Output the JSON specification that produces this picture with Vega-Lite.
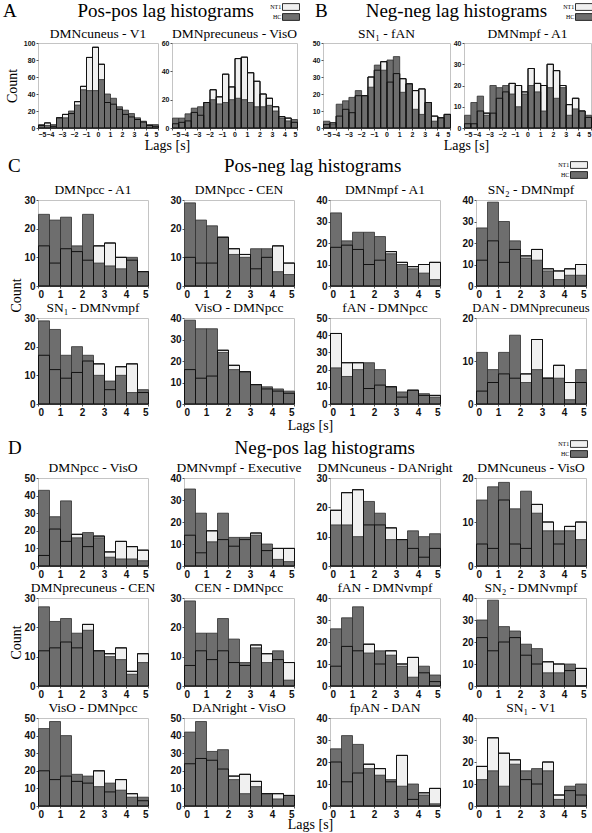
{
"$schema":"https://vega.github.io/schema/vega-lite/v6.json",
"background":"white",
"padding":{"left":3,"top":2,"right":0,"bottom":0},
"data":{"values":[
{"p":"A1","lo":-5,"hi":-4.5,"nt1":3,"hc":4},{"p":"A1","lo":-4.5,"hi":-4,"nt1":6,"hc":3},{"p":"A1","lo":-4,"hi":-3.5,"nt1":2,"hc":4},{"p":"A1","lo":-3.5,"hi":-3,"nt1":12,"hc":12},{"p":"A1","lo":-3,"hi":-2.5,"nt1":16,"hc":12},{"p":"A1","lo":-2.5,"hi":-2,"nt1":17,"hc":20},{"p":"A1","lo":-2,"hi":-1.5,"nt1":31,"hc":27},{"p":"A1","lo":-1.5,"hi":-1,"nt1":49,"hc":45},{"p":"A1","lo":-1,"hi":-0.5,"nt1":83,"hc":44},{"p":"A1","lo":-0.5,"hi":0,"nt1":95,"hc":44},{"p":"A1","lo":0,"hi":0.5,"nt1":75,"hc":57},{"p":"A1","lo":0.5,"hi":1,"nt1":30,"hc":40},{"p":"A1","lo":1,"hi":1.5,"nt1":28,"hc":35},{"p":"A1","lo":1.5,"hi":2,"nt1":22,"hc":25},{"p":"A1","lo":2,"hi":2.5,"nt1":16,"hc":21},{"p":"A1","lo":2.5,"hi":3,"nt1":13,"hc":17},{"p":"A1","lo":3,"hi":3.5,"nt1":10,"hc":12},{"p":"A1","lo":3.5,"hi":4,"nt1":7,"hc":8},{"p":"A1","lo":4,"hi":4.5,"nt1":3,"hc":4},{"p":"A1","lo":4.5,"hi":5,"nt1":2,"hc":4},
{"p":"A2","lo":-5,"hi":-4.5,"nt1":3,"hc":7},{"p":"A2","lo":-4.5,"hi":-4,"nt1":4,"hc":7},{"p":"A2","lo":-4,"hi":-3.5,"nt1":5,"hc":10},{"p":"A2","lo":-3.5,"hi":-3,"nt1":11,"hc":14},{"p":"A2","lo":-3,"hi":-2.5,"nt1":9,"hc":15},{"p":"A2","lo":-2.5,"hi":-2,"nt1":18,"hc":18},{"p":"A2","lo":-2,"hi":-1.5,"nt1":27,"hc":20},{"p":"A2","lo":-1.5,"hi":-1,"nt1":22,"hc":17},{"p":"A2","lo":-1,"hi":-0.5,"nt1":38,"hc":18},{"p":"A2","lo":-0.5,"hi":0,"nt1":29,"hc":20},{"p":"A2","lo":0,"hi":0.5,"nt1":49,"hc":21},{"p":"A2","lo":0.5,"hi":1,"nt1":50,"hc":20},{"p":"A2","lo":1,"hi":1.5,"nt1":39,"hc":18},{"p":"A2","lo":1.5,"hi":2,"nt1":33,"hc":15},{"p":"A2","lo":2,"hi":2.5,"nt1":24,"hc":15},{"p":"A2","lo":2.5,"hi":3,"nt1":21,"hc":16},{"p":"A2","lo":3,"hi":3.5,"nt1":15,"hc":12},{"p":"A2","lo":3.5,"hi":4,"nt1":8,"hc":7},{"p":"A2","lo":4,"hi":4.5,"nt1":7,"hc":5},{"p":"A2","lo":4.5,"hi":5,"nt1":4,"hc":6},
{"p":"B1","lo":-5,"hi":-4.5,"nt1":2,"hc":4},{"p":"B1","lo":-4.5,"hi":-4,"nt1":3,"hc":2},{"p":"B1","lo":-4,"hi":-3.5,"nt1":7,"hc":14},{"p":"B1","lo":-3.5,"hi":-3,"nt1":11,"hc":16},{"p":"B1","lo":-3,"hi":-2.5,"nt1":9,"hc":18},{"p":"B1","lo":-2.5,"hi":-2,"nt1":19,"hc":22},{"p":"B1","lo":-2,"hi":-1.5,"nt1":19,"hc":19},{"p":"B1","lo":-1.5,"hi":-1,"nt1":30,"hc":24},{"p":"B1","lo":-1,"hi":-0.5,"nt1":34,"hc":37},{"p":"B1","lo":-0.5,"hi":0,"nt1":39,"hc":34},{"p":"B1","lo":0,"hi":0.5,"nt1":27,"hc":40},{"p":"B1","lo":0.5,"hi":1,"nt1":32,"hc":42},{"p":"B1","lo":1,"hi":1.5,"nt1":29,"hc":21},{"p":"B1","lo":1.5,"hi":2,"nt1":26,"hc":26},{"p":"B1","lo":2,"hi":2.5,"nt1":22,"hc":11},{"p":"B1","lo":2.5,"hi":3,"nt1":23,"hc":8},{"p":"B1","lo":3,"hi":3.5,"nt1":15,"hc":15},{"p":"B1","lo":3.5,"hi":4,"nt1":7,"hc":4},{"p":"B1","lo":4,"hi":4.5,"nt1":6,"hc":6},{"p":"B1","lo":4.5,"hi":5,"nt1":8,"hc":8},
{"p":"B2","lo":-5,"hi":-4.5,"nt1":2,"hc":6},{"p":"B2","lo":-4.5,"hi":-4,"nt1":2,"hc":12},{"p":"B2","lo":-4,"hi":-3.5,"nt1":8,"hc":15},{"p":"B2","lo":-3.5,"hi":-3,"nt1":7,"hc":6},{"p":"B2","lo":-3,"hi":-2.5,"nt1":7,"hc":20},{"p":"B2","lo":-2.5,"hi":-2,"nt1":14,"hc":19},{"p":"B2","lo":-2,"hi":-1.5,"nt1":17,"hc":20},{"p":"B2","lo":-1.5,"hi":-1,"nt1":21,"hc":16},{"p":"B2","lo":-1,"hi":-0.5,"nt1":20,"hc":10},{"p":"B2","lo":-0.5,"hi":0,"nt1":17,"hc":16},{"p":"B2","lo":0,"hi":0.5,"nt1":28,"hc":20},{"p":"B2","lo":0.5,"hi":1,"nt1":21,"hc":17},{"p":"B2","lo":1,"hi":1.5,"nt1":20,"hc":8},{"p":"B2","lo":1.5,"hi":2,"nt1":30,"hc":19},{"p":"B2","lo":2,"hi":2.5,"nt1":27,"hc":14},{"p":"B2","lo":2.5,"hi":3,"nt1":20,"hc":19},{"p":"B2","lo":3,"hi":3.5,"nt1":11,"hc":6},{"p":"B2","lo":3.5,"hi":4,"nt1":14,"hc":9},{"p":"B2","lo":4,"hi":4.5,"nt1":8,"hc":8},{"p":"B2","lo":4.5,"hi":5,"nt1":5,"hc":6},
{"p":"C1","lo":0,"hi":0.5,"nt1":14,"hc":25},{"p":"C1","lo":0.5,"hi":1,"nt1":8,"hc":23},{"p":"C1","lo":1,"hi":1.5,"nt1":13,"hc":24},{"p":"C1","lo":1.5,"hi":2,"nt1":12,"hc":14},{"p":"C1","lo":2,"hi":2.5,"nt1":9,"hc":25},{"p":"C1","lo":2.5,"hi":3,"nt1":14,"hc":8},{"p":"C1","lo":3,"hi":3.5,"nt1":15,"hc":7},{"p":"C1","lo":3.5,"hi":4,"nt1":10,"hc":6},{"p":"C1","lo":4,"hi":4.5,"nt1":9,"hc":10},{"p":"C1","lo":4.5,"hi":5,"nt1":5,"hc":5},
{"p":"C2","lo":0,"hi":0.5,"nt1":10,"hc":29},{"p":"C2","lo":0.5,"hi":1,"nt1":8,"hc":23},{"p":"C2","lo":1,"hi":1.5,"nt1":8,"hc":21},{"p":"C2","lo":1.5,"hi":2,"nt1":17,"hc":17},{"p":"C2","lo":2,"hi":2.5,"nt1":13,"hc":11},{"p":"C2","lo":2.5,"hi":3,"nt1":11,"hc":10},{"p":"C2","lo":3,"hi":3.5,"nt1":6,"hc":13},{"p":"C2","lo":3.5,"hi":4,"nt1":10,"hc":13},{"p":"C2","lo":4,"hi":4.5,"nt1":14,"hc":5},{"p":"C2","lo":4.5,"hi":5,"nt1":8,"hc":4},
{"p":"C3","lo":0,"hi":0.5,"nt1":18,"hc":34},{"p":"C3","lo":0.5,"hi":1,"nt1":19,"hc":21},{"p":"C3","lo":1,"hi":1.5,"nt1":17,"hc":25},{"p":"C3","lo":1.5,"hi":2,"nt1":10,"hc":25},{"p":"C3","lo":2,"hi":2.5,"nt1":12,"hc":23},{"p":"C3","lo":2.5,"hi":3,"nt1":16,"hc":15},{"p":"C3","lo":3,"hi":3.5,"nt1":11,"hc":10},{"p":"C3","lo":3.5,"hi":4,"nt1":9,"hc":8},{"p":"C3","lo":4,"hi":4.5,"nt1":10,"hc":6},{"p":"C3","lo":4.5,"hi":5,"nt1":11,"hc":3},
{"p":"C4","lo":0,"hi":0.5,"nt1":12,"hc":27},{"p":"C4","lo":0.5,"hi":1,"nt1":21,"hc":39},{"p":"C4","lo":1,"hi":1.5,"nt1":11,"hc":30},{"p":"C4","lo":1.5,"hi":2,"nt1":17,"hc":21},{"p":"C4","lo":2,"hi":2.5,"nt1":14,"hc":13},{"p":"C4","lo":2.5,"hi":3,"nt1":17,"hc":12},{"p":"C4","lo":3,"hi":3.5,"nt1":8,"hc":7},{"p":"C4","lo":3.5,"hi":4,"nt1":7,"hc":3},{"p":"C4","lo":4,"hi":4.5,"nt1":8,"hc":5},{"p":"C4","lo":4.5,"hi":5,"nt1":10,"hc":5},
{"p":"C5","lo":0,"hi":0.5,"nt1":17,"hc":29},{"p":"C5","lo":0.5,"hi":1,"nt1":12,"hc":26},{"p":"C5","lo":1,"hi":1.5,"nt1":9,"hc":17},{"p":"C5","lo":1.5,"hi":2,"nt1":11,"hc":20},{"p":"C5","lo":2,"hi":2.5,"nt1":15,"hc":17},{"p":"C5","lo":2.5,"hi":3,"nt1":14,"hc":10},{"p":"C5","lo":3,"hi":3.5,"nt1":5,"hc":8},{"p":"C5","lo":3.5,"hi":4,"nt1":13,"hc":10},{"p":"C5","lo":4,"hi":4.5,"nt1":14,"hc":4},{"p":"C5","lo":4.5,"hi":5,"nt1":4,"hc":5},
{"p":"C6","lo":0,"hi":0.5,"nt1":16,"hc":39},{"p":"C6","lo":0.5,"hi":1,"nt1":12,"hc":35},{"p":"C6","lo":1,"hi":1.5,"nt1":13,"hc":35},{"p":"C6","lo":1.5,"hi":2,"nt1":25,"hc":24},{"p":"C6","lo":2,"hi":2.5,"nt1":18,"hc":16},{"p":"C6","lo":2.5,"hi":3,"nt1":15,"hc":15},{"p":"C6","lo":3,"hi":3.5,"nt1":9,"hc":9},{"p":"C6","lo":3.5,"hi":4,"nt1":7,"hc":8},{"p":"C6","lo":4,"hi":4.5,"nt1":6,"hc":7},{"p":"C6","lo":4.5,"hi":5,"nt1":5,"hc":6},
{"p":"C7","lo":0,"hi":0.5,"nt1":41,"hc":21},{"p":"C7","lo":0.5,"hi":1,"nt1":24,"hc":16},{"p":"C7","lo":1,"hi":1.5,"nt1":24,"hc":20},{"p":"C7","lo":1.5,"hi":2,"nt1":9,"hc":24},{"p":"C7","lo":2,"hi":2.5,"nt1":11,"hc":20},{"p":"C7","lo":2.5,"hi":3,"nt1":10,"hc":10},{"p":"C7","lo":3,"hi":3.5,"nt1":4,"hc":7},{"p":"C7","lo":3.5,"hi":4,"nt1":8,"hc":8},{"p":"C7","lo":4,"hi":4.5,"nt1":5,"hc":6},{"p":"C7","lo":4.5,"hi":5,"nt1":5,"hc":4},
{"p":"C8","lo":0,"hi":0.5,"nt1":3,"hc":12},{"p":"C8","lo":0.5,"hi":1,"nt1":5,"hc":8},{"p":"C8","lo":1,"hi":1.5,"nt1":7,"hc":12},{"p":"C8","lo":1.5,"hi":2,"nt1":6,"hc":16},{"p":"C8","lo":2,"hi":2.5,"nt1":7,"hc":5},{"p":"C8","lo":2.5,"hi":3,"nt1":15,"hc":8},{"p":"C8","lo":3,"hi":3.5,"nt1":6,"hc":6},{"p":"C8","lo":3.5,"hi":4,"nt1":9,"hc":6},{"p":"C8","lo":4,"hi":4.5,"nt1":5,"hc":1},{"p":"C8","lo":4.5,"hi":5,"nt1":5,"hc":8},
{"p":"D1","lo":0,"hi":0.5,"nt1":6,"hc":43},{"p":"D1","lo":0.5,"hi":1,"nt1":21,"hc":28},{"p":"D1","lo":1,"hi":1.5,"nt1":14,"hc":37},{"p":"D1","lo":1.5,"hi":2,"nt1":18,"hc":16},{"p":"D1","lo":2,"hi":2.5,"nt1":11,"hc":19},{"p":"D1","lo":2.5,"hi":3,"nt1":17,"hc":16},{"p":"D1","lo":3,"hi":3.5,"nt1":8,"hc":5},{"p":"D1","lo":3.5,"hi":4,"nt1":14,"hc":4},{"p":"D1","lo":4,"hi":4.5,"nt1":11,"hc":4},{"p":"D1","lo":4.5,"hi":5,"nt1":9,"hc":3},
{"p":"D2","lo":0,"hi":0.5,"nt1":14,"hc":35},{"p":"D2","lo":0.5,"hi":1,"nt1":6,"hc":24},{"p":"D2","lo":1,"hi":1.5,"nt1":16,"hc":11},{"p":"D2","lo":1.5,"hi":2,"nt1":12,"hc":24},{"p":"D2","lo":2,"hi":2.5,"nt1":9,"hc":13},{"p":"D2","lo":2.5,"hi":3,"nt1":12,"hc":13},{"p":"D2","lo":3,"hi":3.5,"nt1":15,"hc":14},{"p":"D2","lo":3.5,"hi":4,"nt1":7,"hc":10},{"p":"D2","lo":4,"hi":4.5,"nt1":8,"hc":3},{"p":"D2","lo":4.5,"hi":5,"nt1":8,"hc":2},
{"p":"D3","lo":0,"hi":0.5,"nt1":19,"hc":14},{"p":"D3","lo":0.5,"hi":1,"nt1":25,"hc":14},{"p":"D3","lo":1,"hi":1.5,"nt1":26,"hc":10},{"p":"D3","lo":1.5,"hi":2,"nt1":14,"hc":22},{"p":"D3","lo":2,"hi":2.5,"nt1":14,"hc":18},{"p":"D3","lo":2.5,"hi":3,"nt1":13,"hc":9},{"p":"D3","lo":3,"hi":3.5,"nt1":9,"hc":9},{"p":"D3","lo":3.5,"hi":4,"nt1":6,"hc":12},{"p":"D3","lo":4,"hi":4.5,"nt1":3,"hc":10},{"p":"D3","lo":4.5,"hi":5,"nt1":6,"hc":11},
{"p":"D4","lo":0,"hi":0.5,"nt1":5,"hc":15},{"p":"D4","lo":0.5,"hi":1,"nt1":4,"hc":18},{"p":"D4","lo":1,"hi":1.5,"nt1":15,"hc":19},{"p":"D4","lo":1.5,"hi":2,"nt1":5,"hc":13},{"p":"D4","lo":2,"hi":2.5,"nt1":4,"hc":17},{"p":"D4","lo":2.5,"hi":3,"nt1":14,"hc":12},{"p":"D4","lo":3,"hi":3.5,"nt1":10,"hc":8},{"p":"D4","lo":3.5,"hi":4,"nt1":5,"hc":8},{"p":"D4","lo":4,"hi":4.5,"nt1":9,"hc":8},{"p":"D4","lo":4.5,"hi":5,"nt1":10,"hc":6},
{"p":"D5","lo":0,"hi":0.5,"nt1":12,"hc":27},{"p":"D5","lo":0.5,"hi":1,"nt1":13,"hc":22},{"p":"D5","lo":1,"hi":1.5,"nt1":15,"hc":23},{"p":"D5","lo":1.5,"hi":2,"nt1":13,"hc":18},{"p":"D5","lo":2,"hi":2.5,"nt1":21,"hc":19},{"p":"D5","lo":2.5,"hi":3,"nt1":12,"hc":12},{"p":"D5","lo":3,"hi":3.5,"nt1":11,"hc":10},{"p":"D5","lo":3.5,"hi":4,"nt1":13,"hc":9},{"p":"D5","lo":4,"hi":4.5,"nt1":5,"hc":4},{"p":"D5","lo":4.5,"hi":5,"nt1":11,"hc":8},
{"p":"D6","lo":0,"hi":0.5,"nt1":7,"hc":29},{"p":"D6","lo":0.5,"hi":1,"nt1":12,"hc":18},{"p":"D6","lo":1,"hi":1.5,"nt1":9,"hc":18},{"p":"D6","lo":1.5,"hi":2,"nt1":12,"hc":23},{"p":"D6","lo":2,"hi":2.5,"nt1":8,"hc":16},{"p":"D6","lo":2.5,"hi":3,"nt1":7,"hc":8},{"p":"D6","lo":3,"hi":3.5,"nt1":14,"hc":13},{"p":"D6","lo":3.5,"hi":4,"nt1":11,"hc":8},{"p":"D6","lo":4,"hi":4.5,"nt1":9,"hc":12},{"p":"D6","lo":4.5,"hi":5,"nt1":8,"hc":2},
{"p":"D7","lo":0,"hi":0.5,"nt1":9,"hc":26},{"p":"D7","lo":0.5,"hi":1,"nt1":18,"hc":31},{"p":"D7","lo":1,"hi":1.5,"nt1":16,"hc":36},{"p":"D7","lo":1.5,"hi":2,"nt1":19,"hc":15},{"p":"D7","lo":2,"hi":2.5,"nt1":10,"hc":16},{"p":"D7","lo":2.5,"hi":3,"nt1":16,"hc":14},{"p":"D7","lo":3,"hi":3.5,"nt1":10,"hc":9},{"p":"D7","lo":3.5,"hi":4,"nt1":13,"hc":4},{"p":"D7","lo":4,"hi":4.5,"nt1":6,"hc":9},{"p":"D7","lo":4.5,"hi":5,"nt1":2,"hc":5},
{"p":"D8","lo":0,"hi":0.5,"nt1":22,"hc":30},{"p":"D8","lo":0.5,"hi":1,"nt1":16,"hc":39},{"p":"D8","lo":1,"hi":1.5,"nt1":20,"hc":27},{"p":"D8","lo":1.5,"hi":2,"nt1":22,"hc":25},{"p":"D8","lo":2,"hi":2.5,"nt1":14,"hc":19},{"p":"D8","lo":2.5,"hi":3,"nt1":10,"hc":17},{"p":"D8","lo":3,"hi":3.5,"nt1":11,"hc":6},{"p":"D8","lo":3.5,"hi":4,"nt1":10,"hc":6},{"p":"D8","lo":4,"hi":4.5,"nt1":7,"hc":10},{"p":"D8","lo":4.5,"hi":5,"nt1":8,"hc":0},
{"p":"D9","lo":0,"hi":0.5,"nt1":20,"hc":44},{"p":"D9","lo":0.5,"hi":1,"nt1":15,"hc":48},{"p":"D9","lo":1,"hi":1.5,"nt1":17,"hc":40},{"p":"D9","lo":1.5,"hi":2,"nt1":14,"hc":18},{"p":"D9","lo":2,"hi":2.5,"nt1":13,"hc":17},{"p":"D9","lo":2.5,"hi":3,"nt1":20,"hc":11},{"p":"D9","lo":3,"hi":3.5,"nt1":8,"hc":13},{"p":"D9","lo":3.5,"hi":4,"nt1":15,"hc":9},{"p":"D9","lo":4,"hi":4.5,"nt1":7,"hc":5},{"p":"D9","lo":4.5,"hi":5,"nt1":3,"hc":5},
{"p":"D10","lo":0,"hi":0.5,"nt1":24,"hc":42},{"p":"D10","lo":0.5,"hi":1,"nt1":27,"hc":48},{"p":"D10","lo":1,"hi":1.5,"nt1":26,"hc":31},{"p":"D10","lo":1.5,"hi":2,"nt1":21,"hc":32},{"p":"D10","lo":2,"hi":2.5,"nt1":17,"hc":15},{"p":"D10","lo":2.5,"hi":3,"nt1":18,"hc":7},{"p":"D10","lo":3,"hi":3.5,"nt1":14,"hc":11},{"p":"D10","lo":3.5,"hi":4,"nt1":7,"hc":7},{"p":"D10","lo":4,"hi":4.5,"nt1":7,"hc":4},{"p":"D10","lo":4.5,"hi":5,"nt1":6,"hc":6},
{"p":"D11","lo":0,"hi":0.5,"nt1":20,"hc":26},{"p":"D11","lo":0.5,"hi":1,"nt1":11,"hc":32},{"p":"D11","lo":1,"hi":1.5,"nt1":15,"hc":28},{"p":"D11","lo":1.5,"hi":2,"nt1":19,"hc":17},{"p":"D11","lo":2,"hi":2.5,"nt1":17,"hc":14},{"p":"D11","lo":2.5,"hi":3,"nt1":11,"hc":12},{"p":"D11","lo":3,"hi":3.5,"nt1":23,"hc":9},{"p":"D11","lo":3.5,"hi":4,"nt1":3,"hc":10},{"p":"D11","lo":4,"hi":4.5,"nt1":6,"hc":5},{"p":"D11","lo":4.5,"hi":5,"nt1":8,"hc":1},
{"p":"D12","lo":0,"hi":0.5,"nt1":18,"hc":12},{"p":"D12","lo":0.5,"hi":1,"nt1":31,"hc":16},{"p":"D12","lo":1,"hi":1.5,"nt1":24,"hc":9},{"p":"D12","lo":1.5,"hi":2,"nt1":21,"hc":19},{"p":"D12","lo":2,"hi":2.5,"nt1":12,"hc":16},{"p":"D12","lo":2.5,"hi":3,"nt1":10,"hc":17},{"p":"D12","lo":3,"hi":3.5,"nt1":20,"hc":16},{"p":"D12","lo":3.5,"hi":4,"nt1":5,"hc":3},{"p":"D12","lo":4,"hi":4.5,"nt1":7,"hc":9},{"p":"D12","lo":4.5,"hi":5,"nt1":5,"hc":10}
]},
"config":{
"view":{"stroke":"#c4c4c4","strokeWidth":1},
"bar":{"binSpacing":0},
"axis":{"grid":false,"domain":false,"labelOverlap":false,"labelFont":"Liberation Sans","labelFontWeight":"bold","labelFontSize":10,"labelColor":"#111","tickColor":"#555","tickSize":2,"labelPadding":1,"titleFont":"Liberation Serif","titleFontSize":14,"titleFontWeight":"normal","titleColor":"#000"},
"title":{"font":"Liberation Serif","fontSize":13.5,"fontWeight":"normal","color":"#000","offset":-1},
"legend":{"orient":"none","symbolType":"M-2,-0.8H2V0.8H-2Z","symbolSize":72,"symbolStrokeColor":"#000","symbolStrokeWidth":0.8,"labelFont":"Liberation Serif","labelFontSize":6,"labelColor":"#000","labelAlign":"right","labelOffset":-14.75,"rowPadding":0,"padding":0,"symbolOpacity":1}
},
"concat":[
{"hconcat":[
 {"hconcat":[{"hconcat":[
  {"title":"DMNcuneus - V1","width":120,"height":85,"transform":[{"filter":"datum.p=='A1'"}],"encoding":{"x":{"field":"lo","type":"quantitative","bin":"binned","scale":{"domain":[-5,5],"nice":false},"axis":{"values":[-5,-4,-3,-2,-1,0,1,2,3,4,5],"labelFontSize":7,"labelPadding":0,"title":"Lags [s]","titleX":129,"titleY":10,"titleBaseline":"top"}},"x2":{"field":"hi"}},"layer":[{"mark":{"type":"bar","stroke":"#111","strokeWidth":1},"encoding":{"y":{"field":"nt1","type":"quantitative","scale":{"domain":[0,100],"nice":false},"axis":{"values":[0,20,40,60,80,100],"labelFontSize":7,"title":"Count","titlePadding":4}},"fill":{"datum":"NT1","scale":{"domain":["NT1","HC"],"range":["#f0f0f0","#6e6e6e"]},"legend":{"title":null,"legendX":248,"legendY":-41}}}},{"mark":{"type":"bar","stroke":"#303030","strokeWidth":0.8},"encoding":{"y":{"field":"hc","type":"quantitative","axis":{"values":[0,20,40,60,80,100],"labelFontSize":7,"title":"Count","titlePadding":4}},"fill":{"datum":"HC","legend":null}}},{"mark":{"type":"bar","fill":"transparent","stroke":"#111","strokeWidth":1},"encoding":{"y":{"field":"nt1","type":"quantitative","axis":{"values":[0,20,40,60,80,100],"labelFontSize":7,"title":"Count","titlePadding":4}}}}]},
  {"title":"DMNprecuneus - VisO","width":125,"height":85,"transform":[{"filter":"datum.p=='A2'"}],"encoding":{"x":{"field":"lo","type":"quantitative","bin":"binned","scale":{"domain":[-5,5],"nice":false},"axis":{"values":[-5,-4,-3,-2,-1,0,1,2,3,4,5],"labelFontSize":7,"labelPadding":0,"title":null}},"x2":{"field":"hi"}},"layer":[{"mark":{"type":"bar","stroke":"#111","strokeWidth":1},"encoding":{"y":{"field":"nt1","type":"quantitative","scale":{"domain":[0,60],"nice":false},"axis":{"values":[0,20,40,60],"labelFontSize":7,"title":null}},"fill":{"datum":"NT1","scale":{"domain":["NT1","HC"],"range":["#f0f0f0","#6e6e6e"]},"legend":null}}},{"mark":{"type":"bar","stroke":"#303030","strokeWidth":0.8},"encoding":{"y":{"field":"hc","type":"quantitative","axis":{"values":[0,20,40,60],"labelFontSize":7,"title":null}},"fill":{"datum":"HC","legend":null}}},{"mark":{"type":"bar","fill":"transparent","stroke":"#111","strokeWidth":1},"encoding":{"y":{"field":"nt1","type":"quantitative","axis":{"values":[0,20,40,60],"labelFontSize":7,"title":null}}}}]}
 ],"spacing":14,"bounds":"flush","title":{"text":"A\u2003\u2003\u2003\u2009Pos-pos lag histograms","anchor":"start","frame":"group","dx":-35,"fontSize":19,"offset":5}}]},
 {"hconcat":[{"hconcat":[
  {"title":"SN\u2081 - fAN","width":127,"height":85,"transform":[{"filter":"datum.p=='B1'"}],"encoding":{"x":{"field":"lo","type":"quantitative","bin":"binned","scale":{"domain":[-5,5],"nice":false},"axis":{"values":[-5,-4,-3,-2,-1,0,1,2,3,4,5],"labelFontSize":7,"labelPadding":0,"title":"Lags [s]","titleX":143,"titleY":10,"titleBaseline":"top"}},"x2":{"field":"hi"}},"layer":[{"mark":{"type":"bar","stroke":"#111","strokeWidth":1},"encoding":{"y":{"field":"nt1","type":"quantitative","scale":{"domain":[0,50],"nice":false},"axis":{"values":[0,10,20,30,40,50],"labelFontSize":7,"title":null}},"fill":{"datum":"NT1","scale":{"domain":["NT1","HC"],"range":["#f0f0f0","#6e6e6e"]},"legend":{"title":null,"legendX":256,"legendY":-41}}}},{"mark":{"type":"bar","stroke":"#303030","strokeWidth":0.8},"encoding":{"y":{"field":"hc","type":"quantitative","axis":{"values":[0,10,20,30,40,50],"labelFontSize":7,"title":null}},"fill":{"datum":"HC","legend":null}}},{"mark":{"type":"bar","fill":"transparent","stroke":"#111","strokeWidth":1},"encoding":{"y":{"field":"nt1","type":"quantitative","axis":{"values":[0,10,20,30,40,50],"labelFontSize":7,"title":null}}}}]},
  {"title":"DMNmpf - A1","width":127,"height":85,"transform":[{"filter":"datum.p=='B2'"}],"encoding":{"x":{"field":"lo","type":"quantitative","bin":"binned","scale":{"domain":[-5,5],"nice":false},"axis":{"values":[-5,-4,-3,-2,-1,0,1,2,3,4,5],"labelFontSize":7,"labelPadding":0,"title":null}},"x2":{"field":"hi"}},"layer":[{"mark":{"type":"bar","stroke":"#111","strokeWidth":1},"encoding":{"y":{"field":"nt1","type":"quantitative","scale":{"domain":[0,40],"nice":false},"axis":{"values":[0,10,20,30,40],"labelFontSize":7,"title":null}},"fill":{"datum":"NT1","scale":{"domain":["NT1","HC"],"range":["#f0f0f0","#6e6e6e"]},"legend":null}}},{"mark":{"type":"bar","stroke":"#303030","strokeWidth":0.8},"encoding":{"y":{"field":"hc","type":"quantitative","axis":{"values":[0,10,20,30,40],"labelFontSize":7,"title":null}},"fill":{"datum":"HC","legend":null}}},{"mark":{"type":"bar","fill":"transparent","stroke":"#111","strokeWidth":1},"encoding":{"y":{"field":"nt1","type":"quantitative","axis":{"values":[0,10,20,30,40],"labelFontSize":7,"title":null}}}}]}
 ],"spacing":14,"bounds":"flush","title":{"text":"B\u2003\u2003Neg-neg lag histograms","anchor":"start","frame":"group","dx":-8,"fontSize":19,"offset":5}}]}
],"spacing":9,"resolve":{"scale":{"fill":"independent"},"legend":{"fill":"independent"}}},
{"concat":[
 {"vconcat":[{"concat":[
   {"title":"DMNpcc - A1","width":110,"height":86,"transform":[{"filter":"datum.p=='C1'"}],"encoding":{"x":{"field":"lo","type":"quantitative","bin":"binned","scale":{"domain":[0,5],"nice":false},"axis":{"values":[0,1,2,3,4,5],"title":null}},"x2":{"field":"hi"}},"layer":[{"mark":{"type":"bar","stroke":"#111","strokeWidth":1},"encoding":{"y":{"field":"nt1","type":"quantitative","scale":{"domain":[0,30],"nice":false},"axis":{"values":[0,10,20,30],"title":"Count","titleY":95,"titlePadding":0}},"fill":{"datum":"NT1","scale":{"domain":["NT1","HC"],"range":["#f0f0f0","#6e6e6e"]},"legend":{"title":null,"legendX":536,"legendY":-40}}}},{"mark":{"type":"bar","stroke":"#303030","strokeWidth":0.8},"encoding":{"y":{"field":"hc","type":"quantitative","axis":{"values":[0,10,20,30],"title":"Count","titleY":95,"titlePadding":0}},"fill":{"datum":"HC","legend":null}}},{"mark":{"type":"bar","fill":"transparent","stroke":"#111","strokeWidth":1},"encoding":{"y":{"field":"nt1","type":"quantitative","axis":{"values":[0,10,20,30],"title":"Count","titleY":95,"titlePadding":0}}}}]},
   {"title":"DMNpcc - CEN","width":110,"height":86,"transform":[{"filter":"datum.p=='C2'"}],"encoding":{"x":{"field":"lo","type":"quantitative","bin":"binned","scale":{"domain":[0,5],"nice":false},"axis":{"values":[0,1,2,3,4,5],"title":null}},"x2":{"field":"hi"}},"layer":[{"mark":{"type":"bar","stroke":"#111","strokeWidth":1},"encoding":{"y":{"field":"nt1","type":"quantitative","scale":{"domain":[0,30],"nice":false},"axis":{"values":[0,10,20,30],"title":null}},"fill":{"datum":"NT1","scale":{"domain":["NT1","HC"],"range":["#f0f0f0","#6e6e6e"]},"legend":null}}},{"mark":{"type":"bar","stroke":"#303030","strokeWidth":0.8},"encoding":{"y":{"field":"hc","type":"quantitative","axis":{"values":[0,10,20,30],"title":null}},"fill":{"datum":"HC","legend":null}}},{"mark":{"type":"bar","fill":"transparent","stroke":"#111","strokeWidth":1},"encoding":{"y":{"field":"nt1","type":"quantitative","axis":{"values":[0,10,20,30],"title":null}}}}]},
   {"title":"DMNmpf - A1","width":110,"height":86,"transform":[{"filter":"datum.p=='C3'"}],"encoding":{"x":{"field":"lo","type":"quantitative","bin":"binned","scale":{"domain":[0,5],"nice":false},"axis":{"values":[0,1,2,3,4,5],"title":null}},"x2":{"field":"hi"}},"layer":[{"mark":{"type":"bar","stroke":"#111","strokeWidth":1},"encoding":{"y":{"field":"nt1","type":"quantitative","scale":{"domain":[0,40],"nice":false},"axis":{"values":[0,10,20,30,40],"title":null}},"fill":{"datum":"NT1","scale":{"domain":["NT1","HC"],"range":["#f0f0f0","#6e6e6e"]},"legend":null}}},{"mark":{"type":"bar","stroke":"#303030","strokeWidth":0.8},"encoding":{"y":{"field":"hc","type":"quantitative","axis":{"values":[0,10,20,30,40],"title":null}},"fill":{"datum":"HC","legend":null}}},{"mark":{"type":"bar","fill":"transparent","stroke":"#111","strokeWidth":1},"encoding":{"y":{"field":"nt1","type":"quantitative","axis":{"values":[0,10,20,30,40],"title":null}}}}]},
   {"title":"SN\u2082 - DMNmpf","width":110,"height":86,"transform":[{"filter":"datum.p=='C4'"}],"encoding":{"x":{"field":"lo","type":"quantitative","bin":"binned","scale":{"domain":[0,5],"nice":false},"axis":{"values":[0,1,2,3,4,5],"title":null}},"x2":{"field":"hi"}},"layer":[{"mark":{"type":"bar","stroke":"#111","strokeWidth":1},"encoding":{"y":{"field":"nt1","type":"quantitative","scale":{"domain":[0,40],"nice":false},"axis":{"values":[0,10,20,30,40],"title":null}},"fill":{"datum":"NT1","scale":{"domain":["NT1","HC"],"range":["#f0f0f0","#6e6e6e"]},"legend":null}}},{"mark":{"type":"bar","stroke":"#303030","strokeWidth":0.8},"encoding":{"y":{"field":"hc","type":"quantitative","axis":{"values":[0,10,20,30,40],"title":null}},"fill":{"datum":"HC","legend":null}}},{"mark":{"type":"bar","fill":"transparent","stroke":"#111","strokeWidth":1},"encoding":{"y":{"field":"nt1","type":"quantitative","axis":{"values":[0,10,20,30,40],"title":null}}}}]},
   {"title":"SN\u2081 - DMNvmpf","width":110,"height":86,"transform":[{"filter":"datum.p=='C5'"}],"encoding":{"x":{"field":"lo","type":"quantitative","bin":"binned","scale":{"domain":[0,5],"nice":false},"axis":{"values":[0,1,2,3,4,5],"title":null}},"x2":{"field":"hi"}},"layer":[{"mark":{"type":"bar","stroke":"#111","strokeWidth":1},"encoding":{"y":{"field":"nt1","type":"quantitative","scale":{"domain":[0,30],"nice":false},"axis":{"values":[0,10,20,30],"title":null}},"fill":{"datum":"NT1","scale":{"domain":["NT1","HC"],"range":["#f0f0f0","#6e6e6e"]},"legend":null}}},{"mark":{"type":"bar","stroke":"#303030","strokeWidth":0.8},"encoding":{"y":{"field":"hc","type":"quantitative","axis":{"values":[0,10,20,30],"title":null}},"fill":{"datum":"HC","legend":null}}},{"mark":{"type":"bar","fill":"transparent","stroke":"#111","strokeWidth":1},"encoding":{"y":{"field":"nt1","type":"quantitative","axis":{"values":[0,10,20,30],"title":null}}}}]},
   {"title":"VisO - DMNpcc","width":110,"height":86,"transform":[{"filter":"datum.p=='C6'"}],"encoding":{"x":{"field":"lo","type":"quantitative","bin":"binned","scale":{"domain":[0,5],"nice":false},"axis":{"values":[0,1,2,3,4,5],"title":"Lags [s]","titleX":126,"titleY":14,"titleBaseline":"top"}},"x2":{"field":"hi"}},"layer":[{"mark":{"type":"bar","stroke":"#111","strokeWidth":1},"encoding":{"y":{"field":"nt1","type":"quantitative","scale":{"domain":[0,40],"nice":false},"axis":{"values":[0,10,20,30,40],"title":null}},"fill":{"datum":"NT1","scale":{"domain":["NT1","HC"],"range":["#f0f0f0","#6e6e6e"]},"legend":null}}},{"mark":{"type":"bar","stroke":"#303030","strokeWidth":0.8},"encoding":{"y":{"field":"hc","type":"quantitative","axis":{"values":[0,10,20,30,40],"title":null}},"fill":{"datum":"HC","legend":null}}},{"mark":{"type":"bar","fill":"transparent","stroke":"#111","strokeWidth":1},"encoding":{"y":{"field":"nt1","type":"quantitative","axis":{"values":[0,10,20,30,40],"title":null}}}}]},
   {"title":"fAN - DMNpcc","width":110,"height":86,"transform":[{"filter":"datum.p=='C7'"}],"encoding":{"x":{"field":"lo","type":"quantitative","bin":"binned","scale":{"domain":[0,5],"nice":false},"axis":{"values":[0,1,2,3,4,5],"title":null}},"x2":{"field":"hi"}},"layer":[{"mark":{"type":"bar","stroke":"#111","strokeWidth":1},"encoding":{"y":{"field":"nt1","type":"quantitative","scale":{"domain":[0,50],"nice":false},"axis":{"values":[0,10,20,30,40,50],"title":null}},"fill":{"datum":"NT1","scale":{"domain":["NT1","HC"],"range":["#f0f0f0","#6e6e6e"]},"legend":null}}},{"mark":{"type":"bar","stroke":"#303030","strokeWidth":0.8},"encoding":{"y":{"field":"hc","type":"quantitative","axis":{"values":[0,10,20,30,40,50],"title":null}},"fill":{"datum":"HC","legend":null}}},{"mark":{"type":"bar","fill":"transparent","stroke":"#111","strokeWidth":1},"encoding":{"y":{"field":"nt1","type":"quantitative","axis":{"values":[0,10,20,30,40,50],"title":null}}}}]},
   {"title":{"text":"DAN - DMNprecuneus","fontSize":12.5},"width":110,"height":86,"transform":[{"filter":"datum.p=='C8'"}],"encoding":{"x":{"field":"lo","type":"quantitative","bin":"binned","scale":{"domain":[0,5],"nice":false},"axis":{"values":[0,1,2,3,4,5],"title":null}},"x2":{"field":"hi"}},"layer":[{"mark":{"type":"bar","stroke":"#111","strokeWidth":1},"encoding":{"y":{"field":"nt1","type":"quantitative","scale":{"domain":[0,20],"nice":false},"axis":{"values":[0,10,20],"title":null}},"fill":{"datum":"NT1","scale":{"domain":["NT1","HC"],"range":["#f0f0f0","#6e6e6e"]},"legend":null}}},{"mark":{"type":"bar","stroke":"#303030","strokeWidth":0.8},"encoding":{"y":{"field":"hc","type":"quantitative","axis":{"values":[0,10,20],"title":null}},"fill":{"datum":"HC","legend":null}}},{"mark":{"type":"bar","fill":"transparent","stroke":"#111","strokeWidth":1},"encoding":{"y":{"field":"nt1","type":"quantitative","axis":{"values":[0,10,20],"title":null}}}}]}
 ],"columns":4,"spacing":{"row":32,"column":36},"bounds":"flush","title":{"text":"C\u2003\u2003\u2003\u2003\u2003\u2003\u2003\u2003\u2003\u2003\u2002\u2009Pos-neg lag histograms","anchor":"start","frame":"group","dx":-30,"fontSize":19,"offset":6}}]},
 {"vconcat":[{"concat":[
   {"title":"DMNpcc - VisO","width":110,"height":88,"transform":[{"filter":"datum.p=='D1'"}],"encoding":{"x":{"field":"lo","type":"quantitative","bin":"binned","scale":{"domain":[0,5],"nice":false},"axis":{"values":[0,1,2,3,4,5],"title":null}},"x2":{"field":"hi"}},"layer":[{"mark":{"type":"bar","stroke":"#111","strokeWidth":1},"encoding":{"y":{"field":"nt1","type":"quantitative","scale":{"domain":[0,50],"nice":false},"axis":{"values":[0,10,20,30,40,50],"title":null}},"fill":{"datum":"NT1","scale":{"domain":["NT1","HC"],"range":["#f0f0f0","#6e6e6e"]},"legend":{"title":null,"legendX":536,"legendY":-39}}}},{"mark":{"type":"bar","stroke":"#303030","strokeWidth":0.8},"encoding":{"y":{"field":"hc","type":"quantitative","axis":{"values":[0,10,20,30,40,50],"title":null}},"fill":{"datum":"HC","legend":null}}},{"mark":{"type":"bar","fill":"transparent","stroke":"#111","strokeWidth":1},"encoding":{"y":{"field":"nt1","type":"quantitative","axis":{"values":[0,10,20,30,40,50],"title":null}}}}]},
   {"title":"DMNvmpf - Executive","width":110,"height":88,"transform":[{"filter":"datum.p=='D2'"}],"encoding":{"x":{"field":"lo","type":"quantitative","bin":"binned","scale":{"domain":[0,5],"nice":false},"axis":{"values":[0,1,2,3,4,5],"title":null}},"x2":{"field":"hi"}},"layer":[{"mark":{"type":"bar","stroke":"#111","strokeWidth":1},"encoding":{"y":{"field":"nt1","type":"quantitative","scale":{"domain":[0,40],"nice":false},"axis":{"values":[0,10,20,30,40],"title":null}},"fill":{"datum":"NT1","scale":{"domain":["NT1","HC"],"range":["#f0f0f0","#6e6e6e"]},"legend":null}}},{"mark":{"type":"bar","stroke":"#303030","strokeWidth":0.8},"encoding":{"y":{"field":"hc","type":"quantitative","axis":{"values":[0,10,20,30,40],"title":null}},"fill":{"datum":"HC","legend":null}}},{"mark":{"type":"bar","fill":"transparent","stroke":"#111","strokeWidth":1},"encoding":{"y":{"field":"nt1","type":"quantitative","axis":{"values":[0,10,20,30,40],"title":null}}}}]},
   {"title":"DMNcuneus - DANright","width":110,"height":88,"transform":[{"filter":"datum.p=='D3'"}],"encoding":{"x":{"field":"lo","type":"quantitative","bin":"binned","scale":{"domain":[0,5],"nice":false},"axis":{"values":[0,1,2,3,4,5],"title":null}},"x2":{"field":"hi"}},"layer":[{"mark":{"type":"bar","stroke":"#111","strokeWidth":1},"encoding":{"y":{"field":"nt1","type":"quantitative","scale":{"domain":[0,30],"nice":false},"axis":{"values":[0,10,20,30],"title":null}},"fill":{"datum":"NT1","scale":{"domain":["NT1","HC"],"range":["#f0f0f0","#6e6e6e"]},"legend":null}}},{"mark":{"type":"bar","stroke":"#303030","strokeWidth":0.8},"encoding":{"y":{"field":"hc","type":"quantitative","axis":{"values":[0,10,20,30],"title":null}},"fill":{"datum":"HC","legend":null}}},{"mark":{"type":"bar","fill":"transparent","stroke":"#111","strokeWidth":1},"encoding":{"y":{"field":"nt1","type":"quantitative","axis":{"values":[0,10,20,30],"title":null}}}}]},
   {"title":"DMNcuneus - VisO","width":110,"height":88,"transform":[{"filter":"datum.p=='D4'"}],"encoding":{"x":{"field":"lo","type":"quantitative","bin":"binned","scale":{"domain":[0,5],"nice":false},"axis":{"values":[0,1,2,3,4,5],"title":null}},"x2":{"field":"hi"}},"layer":[{"mark":{"type":"bar","stroke":"#111","strokeWidth":1},"encoding":{"y":{"field":"nt1","type":"quantitative","scale":{"domain":[0,20],"nice":false},"axis":{"values":[0,10,20],"title":null}},"fill":{"datum":"NT1","scale":{"domain":["NT1","HC"],"range":["#f0f0f0","#6e6e6e"]},"legend":null}}},{"mark":{"type":"bar","stroke":"#303030","strokeWidth":0.8},"encoding":{"y":{"field":"hc","type":"quantitative","axis":{"values":[0,10,20],"title":null}},"fill":{"datum":"HC","legend":null}}},{"mark":{"type":"bar","fill":"transparent","stroke":"#111","strokeWidth":1},"encoding":{"y":{"field":"nt1","type":"quantitative","axis":{"values":[0,10,20],"title":null}}}}]},
   {"title":"DMNprecuneus - CEN","width":110,"height":88,"transform":[{"filter":"datum.p=='D5'"}],"encoding":{"x":{"field":"lo","type":"quantitative","bin":"binned","scale":{"domain":[0,5],"nice":false},"axis":{"values":[0,1,2,3,4,5],"title":null}},"x2":{"field":"hi"}},"layer":[{"mark":{"type":"bar","stroke":"#111","strokeWidth":1},"encoding":{"y":{"field":"nt1","type":"quantitative","scale":{"domain":[0,30],"nice":false},"axis":{"values":[0,10,20,30],"title":"Count","titlePadding":0}},"fill":{"datum":"NT1","scale":{"domain":["NT1","HC"],"range":["#f0f0f0","#6e6e6e"]},"legend":null}}},{"mark":{"type":"bar","stroke":"#303030","strokeWidth":0.8},"encoding":{"y":{"field":"hc","type":"quantitative","axis":{"values":[0,10,20,30],"title":"Count","titlePadding":0}},"fill":{"datum":"HC","legend":null}}},{"mark":{"type":"bar","fill":"transparent","stroke":"#111","strokeWidth":1},"encoding":{"y":{"field":"nt1","type":"quantitative","axis":{"values":[0,10,20,30],"title":"Count","titlePadding":0}}}}]},
   {"title":"CEN - DMNpcc","width":110,"height":88,"transform":[{"filter":"datum.p=='D6'"}],"encoding":{"x":{"field":"lo","type":"quantitative","bin":"binned","scale":{"domain":[0,5],"nice":false},"axis":{"values":[0,1,2,3,4,5],"title":null}},"x2":{"field":"hi"}},"layer":[{"mark":{"type":"bar","stroke":"#111","strokeWidth":1},"encoding":{"y":{"field":"nt1","type":"quantitative","scale":{"domain":[0,30],"nice":false},"axis":{"values":[0,10,20,30],"title":null}},"fill":{"datum":"NT1","scale":{"domain":["NT1","HC"],"range":["#f0f0f0","#6e6e6e"]},"legend":null}}},{"mark":{"type":"bar","stroke":"#303030","strokeWidth":0.8},"encoding":{"y":{"field":"hc","type":"quantitative","axis":{"values":[0,10,20,30],"title":null}},"fill":{"datum":"HC","legend":null}}},{"mark":{"type":"bar","fill":"transparent","stroke":"#111","strokeWidth":1},"encoding":{"y":{"field":"nt1","type":"quantitative","axis":{"values":[0,10,20,30],"title":null}}}}]},
   {"title":"fAN - DMNvmpf","width":110,"height":88,"transform":[{"filter":"datum.p=='D7'"}],"encoding":{"x":{"field":"lo","type":"quantitative","bin":"binned","scale":{"domain":[0,5],"nice":false},"axis":{"values":[0,1,2,3,4,5],"title":null}},"x2":{"field":"hi"}},"layer":[{"mark":{"type":"bar","stroke":"#111","strokeWidth":1},"encoding":{"y":{"field":"nt1","type":"quantitative","scale":{"domain":[0,40],"nice":false},"axis":{"values":[0,10,20,30,40],"title":null}},"fill":{"datum":"NT1","scale":{"domain":["NT1","HC"],"range":["#f0f0f0","#6e6e6e"]},"legend":null}}},{"mark":{"type":"bar","stroke":"#303030","strokeWidth":0.8},"encoding":{"y":{"field":"hc","type":"quantitative","axis":{"values":[0,10,20,30,40],"title":null}},"fill":{"datum":"HC","legend":null}}},{"mark":{"type":"bar","fill":"transparent","stroke":"#111","strokeWidth":1},"encoding":{"y":{"field":"nt1","type":"quantitative","axis":{"values":[0,10,20,30,40],"title":null}}}}]},
   {"title":"SN\u2082 - DMNvmpf","width":110,"height":88,"transform":[{"filter":"datum.p=='D8'"}],"encoding":{"x":{"field":"lo","type":"quantitative","bin":"binned","scale":{"domain":[0,5],"nice":false},"axis":{"values":[0,1,2,3,4,5],"title":null}},"x2":{"field":"hi"}},"layer":[{"mark":{"type":"bar","stroke":"#111","strokeWidth":1},"encoding":{"y":{"field":"nt1","type":"quantitative","scale":{"domain":[0,40],"nice":false},"axis":{"values":[0,10,20,30,40],"title":null}},"fill":{"datum":"NT1","scale":{"domain":["NT1","HC"],"range":["#f0f0f0","#6e6e6e"]},"legend":null}}},{"mark":{"type":"bar","stroke":"#303030","strokeWidth":0.8},"encoding":{"y":{"field":"hc","type":"quantitative","axis":{"values":[0,10,20,30,40],"title":null}},"fill":{"datum":"HC","legend":null}}},{"mark":{"type":"bar","fill":"transparent","stroke":"#111","strokeWidth":1},"encoding":{"y":{"field":"nt1","type":"quantitative","axis":{"values":[0,10,20,30,40],"title":null}}}}]},
   {"title":"VisO - DMNpcc","width":110,"height":88,"transform":[{"filter":"datum.p=='D9'"}],"encoding":{"x":{"field":"lo","type":"quantitative","bin":"binned","scale":{"domain":[0,5],"nice":false},"axis":{"values":[0,1,2,3,4,5],"title":null}},"x2":{"field":"hi"}},"layer":[{"mark":{"type":"bar","stroke":"#111","strokeWidth":1},"encoding":{"y":{"field":"nt1","type":"quantitative","scale":{"domain":[0,50],"nice":false},"axis":{"values":[0,10,20,30,40,50],"title":null}},"fill":{"datum":"NT1","scale":{"domain":["NT1","HC"],"range":["#f0f0f0","#6e6e6e"]},"legend":null}}},{"mark":{"type":"bar","stroke":"#303030","strokeWidth":0.8},"encoding":{"y":{"field":"hc","type":"quantitative","axis":{"values":[0,10,20,30,40,50],"title":null}},"fill":{"datum":"HC","legend":null}}},{"mark":{"type":"bar","fill":"transparent","stroke":"#111","strokeWidth":1},"encoding":{"y":{"field":"nt1","type":"quantitative","axis":{"values":[0,10,20,30,40,50],"title":null}}}}]},
   {"title":"DANright - VisO","width":110,"height":88,"transform":[{"filter":"datum.p=='D10'"}],"encoding":{"x":{"field":"lo","type":"quantitative","bin":"binned","scale":{"domain":[0,5],"nice":false},"axis":{"values":[0,1,2,3,4,5],"title":"Lags [s]","titleX":126,"titleY":11,"titleBaseline":"top"}},"x2":{"field":"hi"}},"layer":[{"mark":{"type":"bar","stroke":"#111","strokeWidth":1},"encoding":{"y":{"field":"nt1","type":"quantitative","scale":{"domain":[0,50],"nice":false},"axis":{"values":[0,10,20,30,40,50],"title":null}},"fill":{"datum":"NT1","scale":{"domain":["NT1","HC"],"range":["#f0f0f0","#6e6e6e"]},"legend":null}}},{"mark":{"type":"bar","stroke":"#303030","strokeWidth":0.8},"encoding":{"y":{"field":"hc","type":"quantitative","axis":{"values":[0,10,20,30,40,50],"title":null}},"fill":{"datum":"HC","legend":null}}},{"mark":{"type":"bar","fill":"transparent","stroke":"#111","strokeWidth":1},"encoding":{"y":{"field":"nt1","type":"quantitative","axis":{"values":[0,10,20,30,40,50],"title":null}}}}]},
   {"title":"fpAN - DAN","width":110,"height":88,"transform":[{"filter":"datum.p=='D11'"}],"encoding":{"x":{"field":"lo","type":"quantitative","bin":"binned","scale":{"domain":[0,5],"nice":false},"axis":{"values":[0,1,2,3,4,5],"title":null}},"x2":{"field":"hi"}},"layer":[{"mark":{"type":"bar","stroke":"#111","strokeWidth":1},"encoding":{"y":{"field":"nt1","type":"quantitative","scale":{"domain":[0,40],"nice":false},"axis":{"values":[0,10,20,30,40],"title":null}},"fill":{"datum":"NT1","scale":{"domain":["NT1","HC"],"range":["#f0f0f0","#6e6e6e"]},"legend":null}}},{"mark":{"type":"bar","stroke":"#303030","strokeWidth":0.8},"encoding":{"y":{"field":"hc","type":"quantitative","axis":{"values":[0,10,20,30,40],"title":null}},"fill":{"datum":"HC","legend":null}}},{"mark":{"type":"bar","fill":"transparent","stroke":"#111","strokeWidth":1},"encoding":{"y":{"field":"nt1","type":"quantitative","axis":{"values":[0,10,20,30,40],"title":null}}}}]},
   {"title":"SN\u2081 - V1","width":110,"height":88,"transform":[{"filter":"datum.p=='D12'"}],"encoding":{"x":{"field":"lo","type":"quantitative","bin":"binned","scale":{"domain":[0,5],"nice":false},"axis":{"values":[0,1,2,3,4,5],"title":null}},"x2":{"field":"hi"}},"layer":[{"mark":{"type":"bar","stroke":"#111","strokeWidth":1},"encoding":{"y":{"field":"nt1","type":"quantitative","scale":{"domain":[0,40],"nice":false},"axis":{"values":[0,10,20,30,40],"title":null}},"fill":{"datum":"NT1","scale":{"domain":["NT1","HC"],"range":["#f0f0f0","#6e6e6e"]},"legend":null}}},{"mark":{"type":"bar","stroke":"#303030","strokeWidth":0.8},"encoding":{"y":{"field":"hc","type":"quantitative","axis":{"values":[0,10,20,30,40],"title":null}},"fill":{"datum":"HC","legend":null}}},{"mark":{"type":"bar","fill":"transparent","stroke":"#111","strokeWidth":1},"encoding":{"y":{"field":"nt1","type":"quantitative","axis":{"values":[0,10,20,30,40],"title":null}}}}]}
 ],"columns":4,"spacing":{"row":32,"column":36},"bounds":"flush","title":{"text":"D\u2003\u2003\u2003\u2003\u2003\u2003\u2003\u2003\u2003\u2003\u2003\u2009Neg-pos lag histograms","anchor":"start","frame":"group","dx":-30,"fontSize":19,"offset":2}}]}
],"columns":1,"align":"none","spacing":6,"resolve":{"scale":{"fill":"independent"},"legend":{"fill":"independent"}}}
],
"columns":1,"align":"none","spacing":4,
"resolve":{"scale":{"fill":"independent"},"legend":{"fill":"independent"}}
}
